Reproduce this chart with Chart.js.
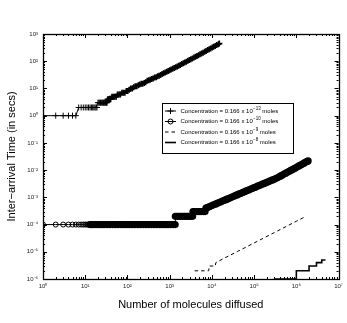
<!DOCTYPE html>
<html><head><meta charset="utf-8">
<script src="https://cdn.jsdelivr.net/npm/chart.js@4/dist/chart.umd.min.js"></script>
<style>html,body{margin:0;padding:0;background:#fff}#wrap{width:347px;height:323px}</style>
</head><body><div id="wrap"><canvas id="c" width="347" height="323"></canvas></div>
<script>
// ---- data ----
const s1x = [1,2,3,4,5,6,7,8,9,10,11,12,13,14,15,16,17,18,19,20,21,22,23,24,25,26,27,28,29,30,31,32,33,
  34,36,38,40,43,46,50,54,58,63,68,74,80,87,94,102,110,120,130,141,153,166,180,195,212,230,250,270,295,320,345,375,405,440,480,520,
  560,610,660,720,780,850,920,1000,1080,1180,1280,1390,1510,1640,1780,1930,2100,2280,2480,2700,2930,3180,3460,3760,4080,4430,4820,5240,5690,6180,6720,7300,7930,8620,9370,10200,11000,12000,13000,14200,15000];
const s1y = [1,1,1,1,1,1,2,2,2,2,2,2,2,2,2,2,2,2,2,3,3,3,3,3,3,3,3,3,3,3,3,3,3,
  4,4,4,4,5,5,5,5,6,6,6,7,7,7,8,8,9,10,10,11,12,12,13,14,15,15,16,17,19,20,21,22,23,25,26,28,
  29.5,31.5,33.6,35.9,38.3,40.9,43.6,46.5,49.4,53,56.4,60.1,64.3,68.6,73.3,78.5,84,89.9,96.4,103,110,118,127,136,145,155,166,179,192,206,221,238,256,275,296,318,339,366,392,423,444];

const s2x = [1,2,3,4,5,6,7,8,9,10,11,12,13,14,15,16,18,20,22,24,26,28,31,34,37,40,44,48,52,57,62,68,74,80,87,95,103,112,122,133,
  145,158,172,187,204,222,242,264,288,314,342,373,406,442,482,525,572,623,679,740,806,878,956,1040,1140,1240,1350,
  1360,1500,1650,1800,2000,2200,2400,2650,2900,3200,3500,
  3560,3900,4300,4700,5200,5700,6300,6900,
  7200,7900,8600,9400,10300,11300,12400,13600,14900,16300,17800,19500,21400,23400,25600,28000,30700,33600,36800,40300,44100,48300,52900,57900,63400,69400,76000,83200,91100,99800,
  109000,120000,131000,143000,157000,172000,188000,206000,226000,247000,271000,296000,324000,355000,389000,426000,466000,510000,559000,612000,670000,733000,803000,879000,962000,1050000,1150000,1260000,1380000,1510000,1660000,1810000,1900000];
const s2y = [1e-4,1e-4,1e-4,1e-4,1e-4,1e-4,1e-4,1e-4,1e-4,1e-4,1e-4,1e-4,1e-4,1e-4,1e-4,1e-4,1e-4,1e-4,1e-4,1e-4,1e-4,1e-4,1e-4,1e-4,1e-4,1e-4,1e-4,1e-4,1e-4,1e-4,1e-4,1e-4,1e-4,1e-4,1e-4,1e-4,1e-4,1e-4,1e-4,1e-4,
  1e-4,1e-4,1e-4,1e-4,1e-4,1e-4,1e-4,1e-4,1e-4,1e-4,1e-4,1e-4,1e-4,1e-4,1e-4,1e-4,1e-4,1e-4,1e-4,1e-4,1e-4,1e-4,1e-4,1e-4,1e-4,1e-4,1e-4,
  2e-4,2e-4,2e-4,2e-4,2e-4,2e-4,2e-4,2e-4,2e-4,2e-4,2e-4,
  3e-4,3e-4,3e-4,3e-4,3e-4,3e-4,3e-4,3e-4,
  4.0e-4,4.26e-4,4.5e-4,4.78e-4,5.07e-4,5.4e-4,5.73e-4,6.1e-4,6.47e-4,6.87e-4,7.28e-4,7.74e-4,8.22e-4,8.73e-4,9.27e-4,9.84e-4,1.045e-3,1.11e-3,1.18e-3,1.25e-3,1.33e-3,1.41e-3,1.5e-3,1.59e-3,1.69e-3,1.79e-3,1.9e-3,2.02e-3,2.14e-3,2.27e-3,
  2.4e-3,2.56e-3,2.71e-3,2.87e-3,3.05e-3,3.24e-3,3.43e-3,3.65e-3,3.87e-3,4.11e-3,4.37e-3,4.62e-3,4.91e-3,5.24e-3,5.66e-3,6.11e-3,6.59e-3,7.13e-3,7.69e-3,8.32e-3,8.98e-3,9.7e-3,1.05e-2,1.13e-2,1.22e-2,1.32e-2,1.43e-2,1.54e-2,1.66e-2,1.8e-2,1.95e-2,2.1e-2,2.18e-2];

const s3x = [3900,8400,8600,12000,12400,20000,40000,100000,300000,1000000,1580000];
const s3y = [2e-6,2e-6,3e-6,3e-6,4e-6,5.9e-6,1.02e-5,2.11e-5,5.07e-5,1.32e-4,1.9e-4];

const s4x = [310000,1000000,1000000,2000000,2000000,3000000,3000000,4000000,4000000,4900000];
const s4y = [1e-6,1e-6,2e-6,2e-6,3e-6,3e-6,4e-6,4e-6,5e-6,5e-6];

const xTickValues = [1,10,100,1000,10000,100000,1000000,10000000];
const xTickLabels = ['10⁰','10¹','10²','10³','10⁴','10⁵','10⁶','10⁷'];
const yTickValues = [1e-6,1e-5,1e-4,1e-3,1e-2,1e-1,1,10,100,1000];
const yTickLabels = ['10⁻⁶','10⁻⁵','10⁻⁴','10⁻³','10⁻²','10⁻¹','10⁰','10¹','10²','10³'];

const seriesLabel = 'Concentration = 0.166 x 10';
const seriesExp = ['−13','−10','−9','−8'];
const seriesUnit = ' moles';
const xTitle = 'Number of molecules diffused';
const yTitle = 'Inter−arrival Time (in secs)';
// ----------------------------------------

const FAM = "'Liberation Sans', Arial, Helvetica, sans-serif";
const pts = (xs, ys) => xs.map((x, i) => ({x, y: ys[i]}));

const frameTicks = {
  id: 'frameTicks',
  afterDatasetsDraw(chart) {
    const {ctx, chartArea: a, scales: {x, y}} = chart;
    ctx.save();
    ctx.strokeStyle = '#000';
    ctx.lineWidth = 1;
    ctx.beginPath();
    const xmin = Math.log10(x.min), xmax = Math.log10(x.max);
    for (let n = xmin; n <= xmax; n++) {
      for (let k = 1; k <= 9; k++) {
        const v = k * Math.pow(10, n);
        if (v > x.max * 1.0001) break;
        const px = Math.round(x.getPixelForValue(v)) + 0.5;
        const len = k === 1 ? 4 : 2;
        ctx.moveTo(px, a.bottom); ctx.lineTo(px, a.bottom - len);
        ctx.moveTo(px, a.top); ctx.lineTo(px, a.top + len);
      }
    }
    const ymin = Math.log10(y.min), ymax = Math.log10(y.max);
    for (let n = ymin; n <= ymax; n++) {
      for (let k = 1; k <= 9; k++) {
        const v = k * Math.pow(10, n);
        if (v > y.max * 1.0001) break;
        const py = Math.round(y.getPixelForValue(v)) + 0.5;
        const len = k === 1 ? 4 : 2;
        ctx.moveTo(a.left, py); ctx.lineTo(a.left + len, py);
        ctx.moveTo(a.right, py); ctx.lineTo(a.right - len, py);
      }
    }
    ctx.stroke();
    ctx.lineWidth = 1.3;
    ctx.strokeRect(Math.round(a.left) + 0.5, Math.round(a.top) + 0.5, Math.round(a.right - a.left), Math.round(a.bottom - a.top));
    ctx.restore();
  }
};

const legendBox = {
  id: 'legendBox',
  afterDraw(chart) {
    const ctx = chart.ctx;
    const L = 162.5, T = 103.5, W = 131, H = 50;
    ctx.save();
    ctx.fillStyle = '#fff';
    ctx.fillRect(L, T, W, H);
    ctx.strokeStyle = '#000'; ctx.lineWidth = 1;
    ctx.strokeRect(L, T, W, H);
    const rowY = [111, 121.5, 132, 142.5];
    chart.data.datasets.forEach((ds, i) => {
      const yy = rowY[i];
      ctx.strokeStyle = '#000';
      ctx.lineWidth = ds.borderWidth;
      ctx.setLineDash(ds.borderDash || []);
      ctx.beginPath(); ctx.moveTo(165, yy); ctx.lineTo(176, yy); ctx.stroke();
      ctx.setLineDash([]);
      ctx.lineWidth = 1;
      const cx = 170.5, r = ds.pointRadius;
      if (r > 0 && ds.pointStyle === 'cross') {
        ctx.beginPath();
        ctx.moveTo(cx - r, yy); ctx.lineTo(cx + r, yy);
        ctx.moveTo(cx, yy - r); ctx.lineTo(cx, yy + r);
        ctx.stroke();
      } else if (r > 0) {
        ctx.beginPath(); ctx.arc(cx, yy, r, 0, Math.PI * 2); ctx.stroke();
      }
      ctx.fillStyle = '#000';
      ctx.textAlign = 'left'; ctx.textBaseline = 'middle';
      let tx = 180.5;
      ctx.font = '6px ' + FAM;
      ctx.fillText(seriesLabel, tx, yy);
      tx += ctx.measureText(seriesLabel).width + 0.3;
      ctx.font = '4.5px ' + FAM;
      ctx.fillText(seriesExp[i], tx, yy - 2.5);
      tx += ctx.measureText(seriesExp[i]).width;
      ctx.font = '6px ' + FAM;
      ctx.fillText(seriesUnit, tx, yy);
    });
    ctx.restore();
  }
};

new Chart(document.getElementById('c'), {
  type: 'scatter',
  data: {
    datasets: [
      {label: seriesLabel + '⁻¹³' + seriesUnit, data: pts(s1x, s1y), showLine: true, borderColor: '#000', borderWidth: 1,
       pointStyle: 'cross', pointRadius: 3, pointHoverRadius: 3,
       pointBorderWidth: c => (c.dataIndex >= 33 ? 1.6 : 1), pointBorderColor: '#000', pointBackgroundColor: 'rgba(0,0,0,0)'},
      {label: seriesLabel + '⁻¹⁰' + seriesUnit, data: pts(s2x, s2y), showLine: true, borderColor: '#000', borderWidth: 1,
       pointStyle: 'circle', pointRadius: 2.5, pointHoverRadius: 2.5,
       pointBorderWidth: c => (c.dataIndex >= 12 ? 2.2 : 1), pointBorderColor: '#000', pointBackgroundColor: 'rgba(0,0,0,0)'},
      {label: seriesLabel + '⁻⁹' + seriesUnit, data: pts(s3x, s3y), showLine: true, borderColor: '#000', borderWidth: 1,
       borderDash: [3.5, 3], pointRadius: 0, pointHoverRadius: 0},
      {label: seriesLabel + '⁻⁸' + seriesUnit, data: pts(s4x, s4y), showLine: true, borderColor: '#000', borderWidth: 1.6,
       pointRadius: 0, pointHoverRadius: 0}
    ]
  },
  options: {
    responsive: false,
    devicePixelRatio: 1,
    animation: false,
    events: [],
    layout: {padding: {left: 0, right: 4, top: 34, bottom: 0}},
    plugins: {legend: {display: false}, tooltip: {enabled: false}},
    scales: {
      x: {
        type: 'logarithmic', min: 1, max: 1e7,
        afterBuildTicks: s => { s.ticks = xTickValues.map(v => ({value: v})); },
        afterFit: s => { s.height = 44; },
        grid: {display: false, drawTicks: false},
        border: {display: false},
        ticks: {autoSkip: false, maxRotation: 0, minRotation: 0, padding: 4, color: '#222',
                font: {family: FAM, size: 6}, callback: (v, i) => xTickLabels[i]},
        title: {display: true, text: xTitle, color: '#000', font: {family: FAM, size: 11}, padding: {top: 0, bottom: 11}}
      },
      y: {
        type: 'logarithmic', min: 1e-6, max: 1e3,
        afterBuildTicks: s => { s.ticks = yTickValues.map(v => ({value: v})); },
        afterFit: s => { s.width = 43; },
        grid: {display: false, drawTicks: false},
        border: {display: false},
        ticks: {autoSkip: false, padding: 5, color: '#222',
                font: {family: FAM, size: 6}, callback: (v, i) => yTickLabels[i]},
        title: {display: true, text: yTitle, color: '#000', font: {family: FAM, size: 11}, padding: {top: 5, bottom: 0}}
      }
    }
  },
  plugins: [frameTicks, legendBox]
});
</script>
</body></html>
